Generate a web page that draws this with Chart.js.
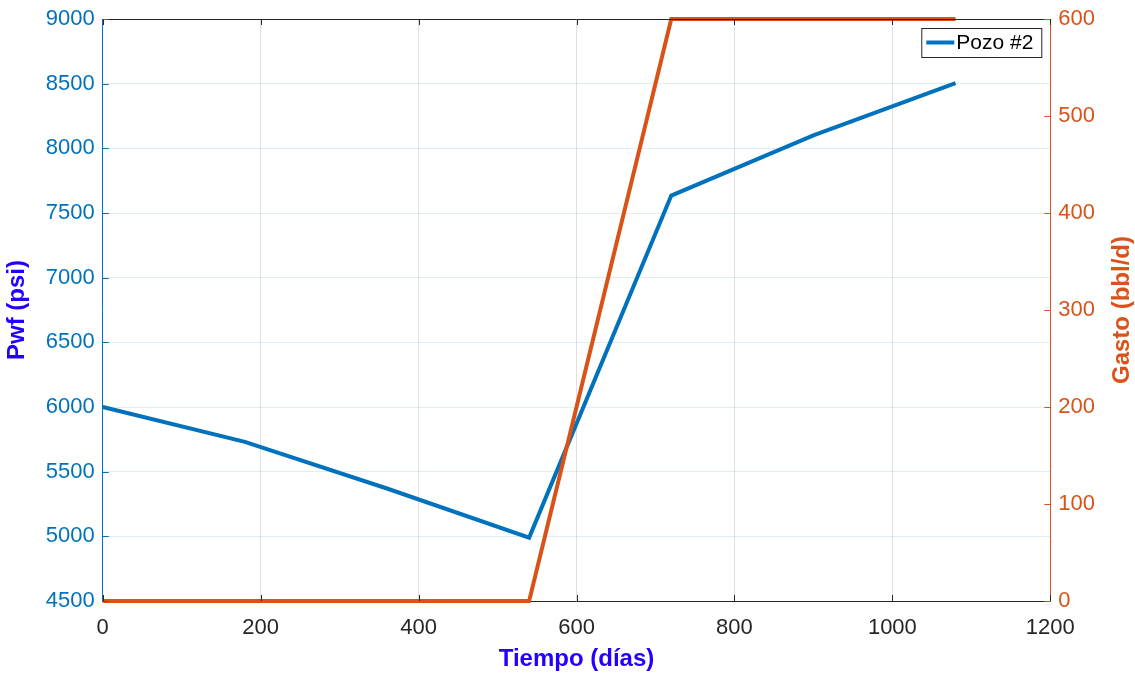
<!DOCTYPE html>
<html>
<head>
<meta charset="utf-8">
<script src="https://cdn.jsdelivr.net/npm/chart.js@4/dist/chart.umd.min.js"></script>
<style>
  html, body { margin: 0; padding: 0; background: #fff; }
  #wrap { width: 1135px; height: 677px; }
</style>
</head>
<body>
<div id="wrap"><canvas id="pozoChart"></canvas></div>
<script>
// datos
const dias = [0, 180, 360, 540, 720, 900, 1080];
const pwf = [6000, 5730, 5370, 4990, 7635, 8100, 8505];
const diasGasto = [0, 180, 360, 540, 720, 900, 1080];
const gasto = [0, 0, 0, 0, 600, 600, 600];

const azul = "#0072BD";
const naranja = "#D95319";
const tituloAzul = "#2200FF";
const fuente = "'Liberation Sans', Arial, sans-serif";

const ctx = document.getElementById('pozoChart').getContext('2d');

// marcas hacia dentro, borde superior, titulo derecho y leyenda (estilo MATLAB)
const extras = {
    id: 'extras',
    afterDraw(chart) {
        const c = chart.ctx;
        const a = chart.chartArea;
        const L = 6;
        c.save();
        c.lineWidth = 1;

        // borde superior
        c.strokeStyle = "#262626";
        c.beginPath();
        c.moveTo(a.left, a.top + 0.5);
        c.lineTo(a.right, a.top + 0.5);
        c.stroke();

        // marcas del eje x (abajo y arriba)
        const sx = chart.scales.x;
        c.beginPath();
        sx.ticks.forEach(t => {
            const px = Math.round(sx.getPixelForValue(t.value)) + 0.5;
            c.moveTo(px, a.bottom); c.lineTo(px, a.bottom - L);
            c.moveTo(px, a.top); c.lineTo(px, a.top + L);
        });
        c.stroke();

        // marcas eje izquierdo
        const sy = chart.scales.y;
        c.strokeStyle = azul;
        c.beginPath();
        sy.ticks.forEach(t => {
            const py = Math.round(sy.getPixelForValue(t.value)) + 0.5;
            c.moveTo(a.left, py); c.lineTo(a.left + L, py);
        });
        c.stroke();

        // marcas eje derecho
        const sy1 = chart.scales.y1;
        c.strokeStyle = naranja;
        c.beginPath();
        sy1.ticks.forEach(t => {
            const py = Math.round(sy1.getPixelForValue(t.value)) + 0.5;
            c.moveTo(a.right, py); c.lineTo(a.right - L, py);
        });
        c.stroke();

        // titulo derecho, leido de abajo hacia arriba
        c.fillStyle = naranja;
        c.font = "bold 24px " + fuente;
        c.textAlign = "center";
        c.textBaseline = "middle";
        c.translate(1122, (a.top + a.bottom) / 2);
        c.rotate(-Math.PI / 2);
        c.fillText("Gasto (bbl/d)", 0, 0);
        c.setTransform(1, 0, 0, 1, 0, 0);

        // leyenda
        const x0 = a.right - 129, y0 = a.top + 9, w = 120, h = 29;
        c.fillStyle = "#fff";
        c.fillRect(x0, y0, w, h);
        c.strokeStyle = "#262626";
        c.lineWidth = 1;
        c.strokeRect(x0 + 0.5, y0 + 0.5, w, h);
        c.strokeStyle = azul;
        c.lineWidth = 4;
        c.beginPath();
        c.moveTo(x0 + 5, y0 + h / 2);
        c.lineTo(x0 + 33, y0 + h / 2);
        c.stroke();
        c.fillStyle = "#000";
        c.font = "21px " + fuente;
        c.textAlign = "left";
        c.fillText(chart.data.datasets[0].label, x0 + 35, y0 + h / 2 + 1);
        c.restore();
    }
};

new Chart(ctx, {
    type: 'line',
    data: {
        datasets: [{
            label: "Pozo #2",
            data: dias.map((d, i) => ({ x: d, y: pwf[i] })),
            borderColor: azul,
            backgroundColor: azul,
            borderWidth: 4,
            pointRadius: 0,
            tension: 0,
            yAxisID: 'y',
            clip: 6,
            order: 2
        }, {
            label: "Gasto",
            data: diasGasto.map((d, i) => ({ x: d, y: gasto[i] })),
            borderColor: naranja,
            backgroundColor: naranja,
            borderWidth: 4,
            pointRadius: 0,
            tension: 0,
            yAxisID: 'y1',
            clip: 6,
            order: 1
        }]
    },
    options: {
        responsive: true,
        maintainAspectRatio: false,
        animation: false,
        layout: { padding: { top: 8, right: 32, left: 3, bottom: 0 } },
        scales: {
            x: {
                type: 'linear',
                min: 0, max: 1200,
                ticks: {
                    stepSize: 200,
                    color: "#262626",
                    font: { size: 22, family: fuente, lineHeight: 1.0 },
                    padding: 16,
                    callback: v => String(v)
                },
                grid: { color: "rgba(0,0,0,0.12)", drawTicks: false },
                border: { color: "#262626" },
                title: {
                    display: true,
                    text: "Tiempo (días)",
                    color: tituloAzul,
                    font: { size: 24, weight: 'bold', family: fuente, lineHeight: 1.0 },
                    padding: { top: -8, bottom: 6 }
                }
            },
            y: {
                position: 'left',
                min: 4500, max: 9000,
                ticks: {
                    stepSize: 500,
                    color: azul,
                    font: { size: 22, family: fuente, lineHeight: 1.0 },
                    padding: 8,
                    callback: v => String(v)
                },
                grid: { color: "rgba(0,114,189,0.13)", drawTicks: false },
                border: { color: azul },
                title: {
                    display: true,
                    text: "Pwf (psi)",
                    color: tituloAzul,
                    font: { size: 24, weight: 'bold', family: fuente },
                    padding: { top: 0, bottom: 6 }
                }
            },
            y1: {
                position: 'right',
                min: 0, max: 600,
                ticks: {
                    stepSize: 100,
                    color: naranja,
                    font: { size: 22, family: fuente, lineHeight: 1.0 },
                    padding: 8,
                    callback: v => String(v)
                },
                grid: { drawOnChartArea: false, drawTicks: false },
                border: { color: naranja },
                title: { display: false }
            }
        },
        plugins: {
            legend: { display: false },
            tooltip: { enabled: false }
        }
    },
    plugins: [extras]
});
</script>
</body>
</html>
